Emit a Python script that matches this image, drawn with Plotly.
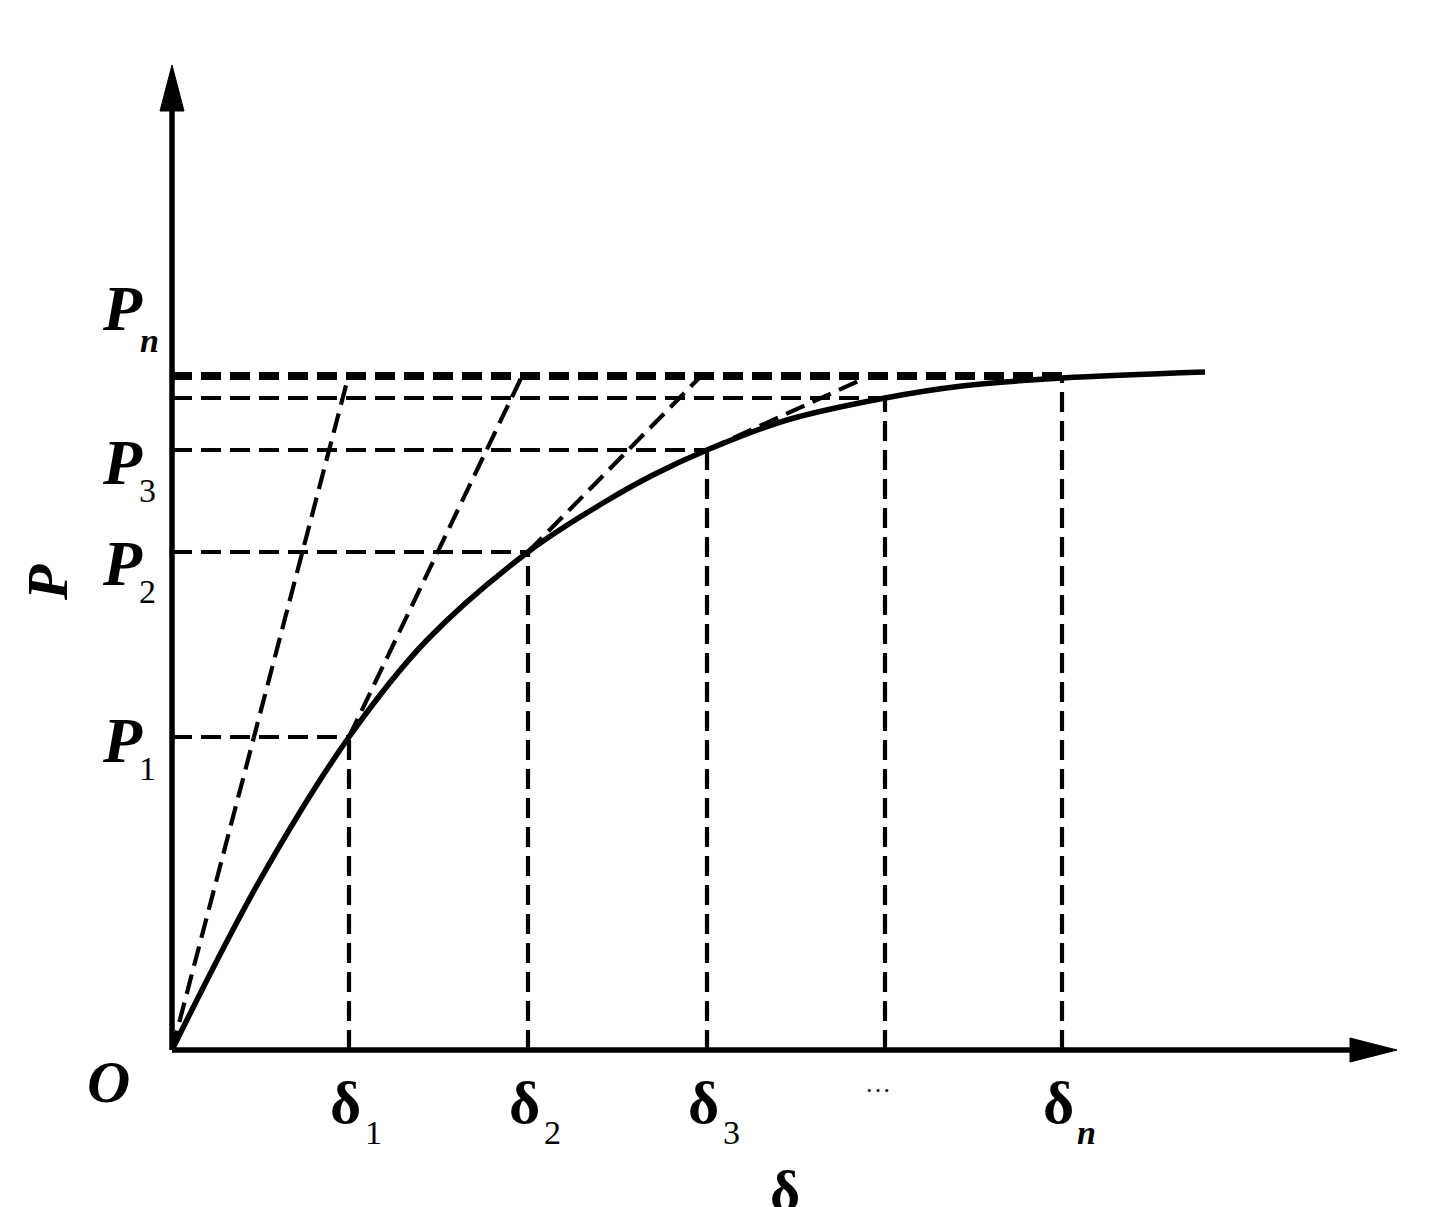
import plotly.graph_objects as go

# ---- data (in plot units; origin O = (0, 0)) ----
curve_delta = [0, 88, 177, 255, 356, 431, 481, 535, 615, 713, 790, 890, 1033]
curve_P     = [0, 170, 313, 410, 498, 547, 575, 600, 630, 652, 664, 672, 678]

delta_marks = [177, 356, 535, 713, 890]          # δ1, δ2, δ3, …, δn
P_marks     = [313, 498, 600, 652, 672]          # P1, P2, P3, P4, Pn
P_top       = 676                                 # upper limit reached by the secants

# secant / tangent construction lines (start point -> end point on P_top / Pn level)
sec_x0 = [0, 177, 356, 535]
sec_y0 = [0, 313, 498, 600]
sec_x1 = [177, 351, 531, 693]
sec_y1 = [676, 676, 676, 672]

delta_tick_labels = ["δ", "δ", "δ", "…", "δ"]
delta_tick_subs   = ["1", "2", "3", "", "n"]
P_tick_labels     = ["P", "P", "P", "P"]
P_tick_subs       = ["1", "2", "3", "n"]
P_tick_pos        = [310, 487, 588, 742]          # label centre heights (P1, P2, P3, Pn)
x_axis_end = 1225
y_axis_end = 985

FONT = "Liberation Serif"
DASH = "20px,9px"
BLACK = "#000000"

fig = go.Figure()

# axes
fig.add_trace(go.Scatter(x=[0, x_axis_end - 40], y=[0, 0], mode="lines",
                         line=dict(color=BLACK, width=5.5), hoverinfo="skip"))
fig.add_trace(go.Scatter(x=[0, 0], y=[0, y_axis_end - 40], mode="lines",
                         line=dict(color=BLACK, width=5.5), hoverinfo="skip"))
# arrow heads
fig.add_trace(go.Scatter(x=[x_axis_end - 47, x_axis_end, x_axis_end - 47, x_axis_end - 47],
                         y=[12, 0, -12, 12], mode="lines", fill="toself",
                         fillcolor=BLACK, line=dict(color=BLACK, width=1), hoverinfo="skip"))
fig.add_trace(go.Scatter(x=[-12, 0, 12, -12],
                         y=[y_axis_end - 46, y_axis_end, y_axis_end - 46, y_axis_end - 46],
                         mode="lines", fill="toself",
                         fillcolor=BLACK, line=dict(color=BLACK, width=1), hoverinfo="skip"))

# horizontal dashed guides
for dx, p in zip(delta_marks, P_marks):
    fig.add_trace(go.Scatter(x=[0, dx], y=[p, p], mode="lines",
                             line=dict(color=BLACK, width=4.2, dash=DASH), hoverinfo="skip"))
fig.add_trace(go.Scatter(x=[0, delta_marks[-1]], y=[P_top, P_top], mode="lines",
                         line=dict(color=BLACK, width=4.2, dash=DASH), hoverinfo="skip"))
# vertical dashed guides
for dx, p in zip(delta_marks, P_marks):
    fig.add_trace(go.Scatter(x=[dx, dx], y=[0, p], mode="lines",
                             line=dict(color=BLACK, width=4.2, dash=DASH), hoverinfo="skip"))
# secant lines
for a, b, c, d in zip(sec_x0, sec_y0, sec_x1, sec_y1):
    fig.add_trace(go.Scatter(x=[a, c], y=[b, d], mode="lines",
                             line=dict(color=BLACK, width=4.2, dash=DASH), hoverinfo="skip"))

# load-displacement curve
fig.add_trace(go.Scatter(x=curve_delta, y=curve_P, mode="lines",
                         line=dict(color=BLACK, width=5.5, shape="spline", smoothing=1.0),
                         hoverinfo="skip"))

ann = []
def txt(x, y, s, size, bold=False, italic=False, angle=0):
    ann.append(dict(x=x, y=y, xref="x", yref="y", text=s, showarrow=False,
                    xanchor="center", yanchor="middle", textangle=angle,
                    font=dict(family=FONT, size=size, color=BLACK,
                              weight="bold" if bold else "normal",
                              style="italic" if italic else "normal")))

# P tick labels
for lab, sub, yc in zip(P_tick_labels, P_tick_subs, P_tick_pos):
    txt(-50, yc, lab, 64, bold=True, italic=True)
    if sub == "n":
        txt(-23, yc - 32, sub, 34, bold=True, italic=True)
    else:
        txt(-25, yc - 28, sub, 34)

# delta tick labels
for lab, sub, dx in zip(delta_tick_labels, delta_tick_subs, delta_marks):
    if lab == "…":
        txt(dx - 7, -33, lab, 26)
        continue
    txt(dx - 4, -53, lab, 60, bold=True)
    txt(dx + 24, -82, sub, 34, italic=(sub == "n"), bold=(sub == "n"))

# origin and axis titles
txt(-64, -32, "O", 60, bold=True, italic=True)
txt(613, -140, "δ", 58, bold=True)
txt(-125, 467, "P", 58, bold=True, italic=True, angle=-90)

fig.update_layout(
    width=1450, height=1207,
    margin=dict(l=0, r=0, t=0, b=0),
    paper_bgcolor="white", plot_bgcolor="white",
    showlegend=False,
    xaxis=dict(range=[-172, 1278], visible=False, fixedrange=True),
    yaxis=dict(range=[-157, 1050], visible=False, fixedrange=True),
    annotations=ann,
)

fig.write_html("out.html", config={"displayModeBar": False},
               post_script="document.body.style.margin='0';")
